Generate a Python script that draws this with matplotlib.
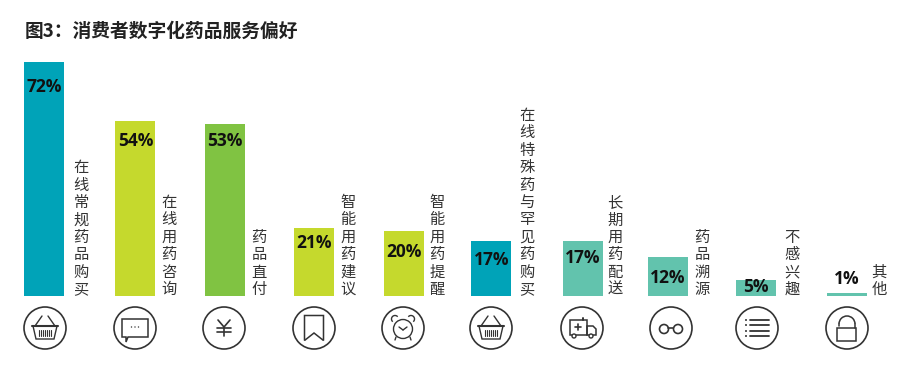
import matplotlib
matplotlib.use('Agg')
import matplotlib.pyplot as plt
from matplotlib.patches import Circle, Rectangle, Polygon, Arc

plt.rcParams['font.family'] = ['Noto Sans CJK SC', 'DejaVu Sans']

# values
categories = ['在线常规药品购买', '在线用药咨询', '药品直付', '智能用药建议', '智能用药提醒',
              '在线特殊药与罕见药购买', '长期用药配送', '药品溯源', '不感兴趣', '其他']
values = [72, 54, 53, 21, 20, 17, 17, 12, 5, 1]

TEAL = '#00a3b8'
LIME = '#c5d92d'
GREEN = '#80c342'
MINT = '#62c3ad'
bar_colors = [TEAL, LIME, GREEN, LIME, LIME, TEAL, MINT, MINT, MINT, MINT]

# layout, in pixels of the 920x374 image
bar_x = [44.5, 135.5, 225, 314.5, 404, 491.5, 583, 668, 756, 847]
label_x = [81, 169, 259, 348, 437, 527, 615, 702, 792, 879]
value_y = [87, 141, 141, 243, 252, 260, 258, 278, 287, 279]
icon_x = [45, 135, 224, 314, 403, 491, 582, 671, 757, 847]
icon_y = 328
INK = '#333333'

fig = plt.figure(figsize=(9.2, 3.74), dpi=100)

# bars axes: 0% at y=296, 72% at y=62
ax = fig.add_axes([0, (374 - 296) / 374, 1, 234 / 374])
ax.set_xlim(0, 920)
ax.set_ylim(0, 72)
ax.axis('off')
ax.bar(bar_x, values, width=40, color=bar_colors, linewidth=0)

# overlay in image pixels for text and icons
ov = fig.add_axes([0, 0, 1, 1])
ov.set_xlim(0, 920)
ov.set_ylim(374, 0)
ov.axis('off')

ov.text(25, 31, '图3：消费者数字化药品服务偏好', fontsize=13.5, fontweight='bold',
        color='#222222', ha='left', va='center')

for x, y, v in zip(bar_x, value_y, values):
    ov.text(x, y, f'{v}%', fontsize=12.5, fontweight='bold', color='#111111',
            ha='center', va='center', family=['Open Sans', 'DejaVu Sans'])

for x, name in zip(label_x, categories):
    ov.text(x, 298, '\n'.join(name), fontsize=11, color='#333333', ha='center',
            va='bottom', linespacing=1.03, multialignment='center')


def line(pts, lw=1.0):
    ov.plot([p[0] for p in pts], [p[1] for p in pts], color=INK, lw=lw,
            solid_capstyle='round', solid_joinstyle='round')


def basket(cx, cy):
    ov.add_patch(Polygon([(cx - 12, cy - 2), (cx + 12, cy - 2), (cx + 9, cy + 11), (cx - 9, cy + 11)],
                         fill=False, ec=INK, lw=1.0))
    line([(cx - 13, cy - 2), (cx + 13, cy - 2)], 1.5)
    line([(cx - 10, cy - 2), (cx - 3, cy - 12)])
    line([(cx + 10, cy - 2), (cx + 3, cy - 12)])
    for dx in (-6, -4, -2, 0, 2, 4, 6):
        line([(cx + dx, cy + 2), (cx + dx, cy + 8)], 0.8)


def chat(cx, cy):
    ov.add_patch(Polygon([(cx - 13, cy - 9), (cx + 13, cy - 9), (cx + 13, cy + 9), (cx - 7, cy + 9),
                          (cx - 9, cy + 14), (cx - 9, cy + 9), (cx - 13, cy + 9)],
                         fill=False, ec=INK, lw=1.1))
    for dx in (-3.5, 0, 3.5):
        ov.add_patch(Circle((cx + dx, cy - 1), 0.7, fc=INK, ec='none'))


def yen(cx, cy):
    line([(cx - 6, cy - 8), (cx, cy - 1), (cx + 6, cy - 8)], 1.2)
    line([(cx, cy - 1), (cx, cy + 8)], 1.2)
    line([(cx - 7, cy), (cx + 7, cy)], 1.2)
    line([(cx - 7, cy + 4), (cx + 7, cy + 4)], 1.2)


def bookmark(cx, cy):
    ov.add_patch(Polygon([(cx - 9.5, cy - 12.5), (cx + 9.5, cy - 12.5), (cx + 9.5, cy + 12.5),
                          (cx, cy + 5), (cx - 9.5, cy + 12.5)], fill=False, ec=INK, lw=1.1))


def clock(cx, cy):
    ov.add_patch(Circle((cx, cy + 1), 9.5, fill=False, ec=INK, lw=1.0))
    line([(cx, cy + 2), (cx - 4, cy - 1)])
    line([(cx, cy + 2), (cx + 4, cy - 1)])
    line([(cx - 7, cy + 9), (cx - 8, cy + 12)])
    line([(cx + 7, cy + 9), (cx + 8, cy + 12)])
    ov.add_patch(Arc((cx - 8, cy - 9), 7, 7, theta1=130, theta2=320, color=INK, lw=1.0))
    ov.add_patch(Arc((cx + 8, cy - 9), 7, 7, theta1=220, theta2=50, color=INK, lw=1.0))


def ambulance(cx, cy):
    ov.add_patch(Rectangle((cx - 12, cy - 8), 17, 15, fill=False, ec=INK, lw=1.1))
    ov.add_patch(Polygon([(cx + 5, cy - 2), (cx + 11, cy - 2), (cx + 14, cy + 1), (cx + 14, cy + 7), (cx + 5, cy + 7)],
                         fill=False, ec=INK, lw=1.1))
    line([(cx - 7, cy - 1), (cx - 1, cy - 1)], 1.2)
    line([(cx - 4, cy - 4), (cx - 4, cy + 2)], 1.2)
    line([(cx + 1, cy - 8), (cx + 1, cy - 10)], 1.4)
    for dx in (-8, 9):
        ov.add_patch(Circle((cx + dx, cy + 8), 2, fc='white', ec=INK, lw=1.0, zorder=3))


def glasses(cx, cy):
    ov.add_patch(Circle((cx - 7, cy + 1), 4.5, fill=False, ec=INK, lw=1.2))
    ov.add_patch(Circle((cx + 7, cy + 1), 4.5, fill=False, ec=INK, lw=1.2))
    line([(cx - 2.5, cy), (cx + 2.5, cy)], 1.2)


def listing(cx, cy):
    for dy in (-8, -3, 3, 8):
        line([(cx - 7, cy + dy), (cx + 12, cy + dy)], 1.3)
        ov.add_patch(Circle((cx - 11, cy + dy), 1, fc=INK, ec='none'))


def padlock(cx, cy):
    ov.add_patch(Rectangle((cx - 9.5, cy), 19, 13, fill=False, ec=INK, lw=1.1))
    ov.add_patch(Arc((cx, cy - 4), 16, 16, theta1=180, theta2=360, color=INK, lw=1.1))
    line([(cx + 8, cy - 4), (cx + 8, cy)], 1.1)
    line([(cx - 8, cy - 4), (cx - 8, cy - 2)], 1.1)


icons = [basket, chat, yen, bookmark, clock, basket, ambulance, glasses, listing, padlock]
for x, draw in zip(icon_x, icons):
    ov.add_patch(Circle((x, icon_y), 21, fill=False, ec=INK, lw=1.2))
    draw(x, icon_y)

fig.savefig('out.png', dpi=100, facecolor='white')
